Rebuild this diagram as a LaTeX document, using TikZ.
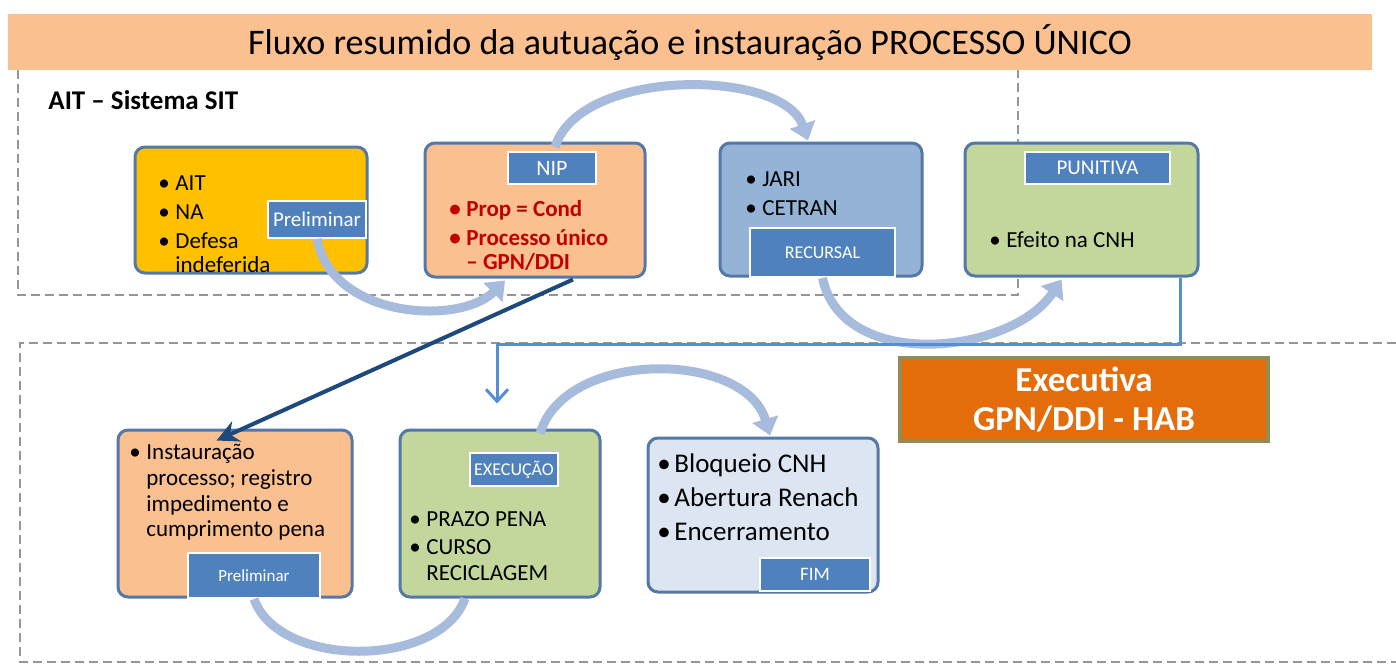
\documentclass[tikz,border=0pt]{standalone}
\usepackage{fontspec}
\setmainfont{Carlito}
\usetikzlibrary{arrows.meta}
\definecolor{pessego}{RGB}{250,192,144}
\definecolor{ouro}{RGB}{255,192,0}
\definecolor{borda}{RGB}{84,120,168}
\definecolor{azul}{RGB}{79,129,189}
\definecolor{azulclaro}{RGB}{149,179,215}
\definecolor{verde}{RGB}{195,214,155}
\definecolor{gelo}{RGB}{220,230,242}
\definecolor{curvacor}{RGB}{167,187,220}
\definecolor{ligacor}{RGB}{85,142,213}
\definecolor{marinho}{RGB}{31,73,125}
\definecolor{laranja}{RGB}{228,108,10}
\definecolor{oliva}{RGB}{148,138,84}
\definecolor{vermelho}{RGB}{192,0,0}
\definecolor{cinza}{RGB}{150,150,150}
\newcommand{\topico}[1]{\makebox[8.5pt][l]{\textbullet}#1}
\newcommand{\recuo}{\hspace*{8.5pt}}
\begin{document}
\begin{tikzpicture}[x=0.5pt,y=-0.5pt,
  caixa/.style={draw=borda,line width=1.5pt,rounded corners=5pt},
  etiq/.style={draw=white,line width=1pt,fill=azul,text=white,inner sep=0pt},
  texto/.style={anchor=north west,inner sep=0pt,align=left,font=\fontsize{11.5pt}{12pt}\selectfont},
  curva/.style={draw=curvacor,line width=4.5pt},
  ponta/.style={-{Triangle[width=13pt,length=8.5pt]}},
  tracejado/.style={draw=cinza,line width=1.4pt,dash pattern=on 4.5pt off 2.5pt},
  ligacao/.style={draw=ligacor,line width=1.5pt,-{Straight Barb[length=6pt,width=11pt]}},
  seta/.style={draw=marinho,line width=2pt,-{Stealth[length=11pt,width=11pt]}}]
\useasboundingbox (0,0) rectangle (1396,664);
%%Titulo
\node[fill=pessego,minimum width=682pt,minimum height=28pt,inner sep=0pt,
  font=\fontsize{18pt}{19pt}\selectfont] (titulo) at (690,42) {Fluxo resumido da autuação e instauração PROCESSO ÚNICO};
%%Molduras
\draw[tracejado] (18,70) -- (18,295) -- (1018,295) -- (1018,70);
\draw[tracejado] (1396,343) -- (20,343) -- (20,662) -- (1396,662);
\node[anchor=west,inner sep=0pt,font=\bfseries\fontsize{13.5pt}{14pt}\selectfont] (sistema) at (48,100) {AIT – Sistema SIT};
%%Caixas de cima
\node[caixa,fill=ouro,minimum width=116pt,minimum height=63pt] (ait) at (251,210) {};
\node[caixa,fill=pessego,minimum width=110pt,minimum height=67pt] (nip) at (535,210) {};
\node[caixa,fill=azulclaro,minimum width=101pt,minimum height=66.5pt] (jari) at (821,209.5) {};
\node[caixa,fill=verde,minimum width=116.5pt,minimum height=66.5pt] (pun) at (1081.5,209.5) {};
\node[texto] (tait) at (158,175) {\topico{AIT}\\[2.5pt]\topico{NA}\\[2.5pt]\topico{Defesa}\\\recuo indeferida};
\node[texto,text=vermelho,font=\bfseries\fontsize{11.5pt}{12pt}\selectfont] (tnip) at (449,200) {\topico{Prop = Cond}\\[2.5pt]\topico{Processo único}\\\recuo – GPN/DDI};
\node[texto] (tjari) at (745,171) {\topico{JARI}\\[2.5pt]\topico{CETRAN}};
\node[texto] (tpun) at (989,231) {\topico{Efeito na CNH}};
\node[etiq,minimum width=49pt,minimum height=18.5pt,font=\fontsize{10.5pt}{11pt}\selectfont] (lprelA) at (317,219.5) {Preliminar};
\node[etiq,minimum width=44pt,minimum height=16pt,font=\fontsize{11pt}{12pt}\selectfont] (lnip) at (552,168) {NIP};
\node[etiq,minimum width=72.5pt,minimum height=24.5pt,font=\fontsize{9pt}{10pt}\selectfont] (lrec) at (822.5,252.5) {RECURSAL};
\node[etiq,minimum width=72.5pt,minimum height=16pt,font=\fontsize{10.5pt}{11pt}\selectfont] (lpun) at (1097.5,168) {PUNITIVA};
%%Caixas de baixo
\node[caixa,fill=pessego,minimum width=117pt,minimum height=83.5pt] (inst) at (235,513.5) {};
\node[caixa,fill=verde,minimum width=100pt,minimum height=83.5pt] (exe) at (500,513.5) {};
\node[caixa,fill=gelo,minimum width=115pt,minimum height=77pt] (fim) at (763,515) {};
\node[fill=laranja,draw=oliva,line width=2pt,minimum width=184pt,minimum height=41.5pt,text=white,align=center,
  font=\bfseries\fontsize{17.5pt}{19.5pt}\selectfont] (exec) at (1084,399.5) {Executiva\\GPN/DDI - HAB};
\node[texto,font=\fontsize{11.5pt}{12.85pt}\selectfont] (tinst) at (129,444) {\topico{Instauração}\\\recuo processo; registro\\\recuo impedimento e\\\recuo cumprimento pena};
\node[texto,font=\fontsize{11.5pt}{13pt}\selectfont] (texe) at (409,511) {\topico{PRAZO PENA}\\[1pt]\topico{CURSO}\\\recuo RECICLAGEM};
\node[texto,font=\fontsize{13.5pt}{17pt}\selectfont] (tfim) at (657,453) {\topico{Bloqueio CNH}\\\topico{Abertura Renach}\\\topico{Encerramento}};
\node[etiq,minimum width=44pt,minimum height=16.5pt,font=\fontsize{9pt}{10pt}\selectfont] (lexe) at (514,469.5) {EXECUÇÃO};
\node[etiq,minimum width=66pt,minimum height=22.5pt,font=\fontsize{8.5pt}{9pt}\selectfont] (lprelB) at (254,575.5) {Preliminar};
\node[etiq,minimum width=55pt,minimum height=16.5pt,font=\fontsize{9.5pt}{10pt}\selectfont] (lfim) at (815,574.5) {FIM};
%%Curvas
\draw[curva,ponta] (lprelA.south) .. controls +(15,80) and +(-45,45) .. ([shift={(-30,2)}]nip.south);
\draw[curva,ponta] ([shift={(3,-4)}]lnip.north) .. controls +(25,-80) and +(-25,-72) .. ([shift={(-13,-1)}]jari.north);
\draw[curva,ponta] (lrec.south) .. controls +(20,95) and +(-50,75) .. ([shift={(-20,2)}]pun.south);
\draw[curva,ponta] ([shift={(40,5)}]exe.north) .. controls +(25,-85) and +(-25,-85) .. ([shift={(7,-1)}]fim.north);
\draw[curva] (lprelB.south) .. controls +(25,70) and +(-25,70) .. ([shift={(-35,0)}]exe.south);
%%Ligacoes
\draw[ligacao] ([shift={(98.5,0)}]pun.south) -- ++(0,67) -| ([shift={(-3,-25)}]exe.north);
\draw[seta] ([shift={(38,1)}]nip.south) -- ([shift={(100,12)}]inst.north west);
\end{tikzpicture}
\end{document}
